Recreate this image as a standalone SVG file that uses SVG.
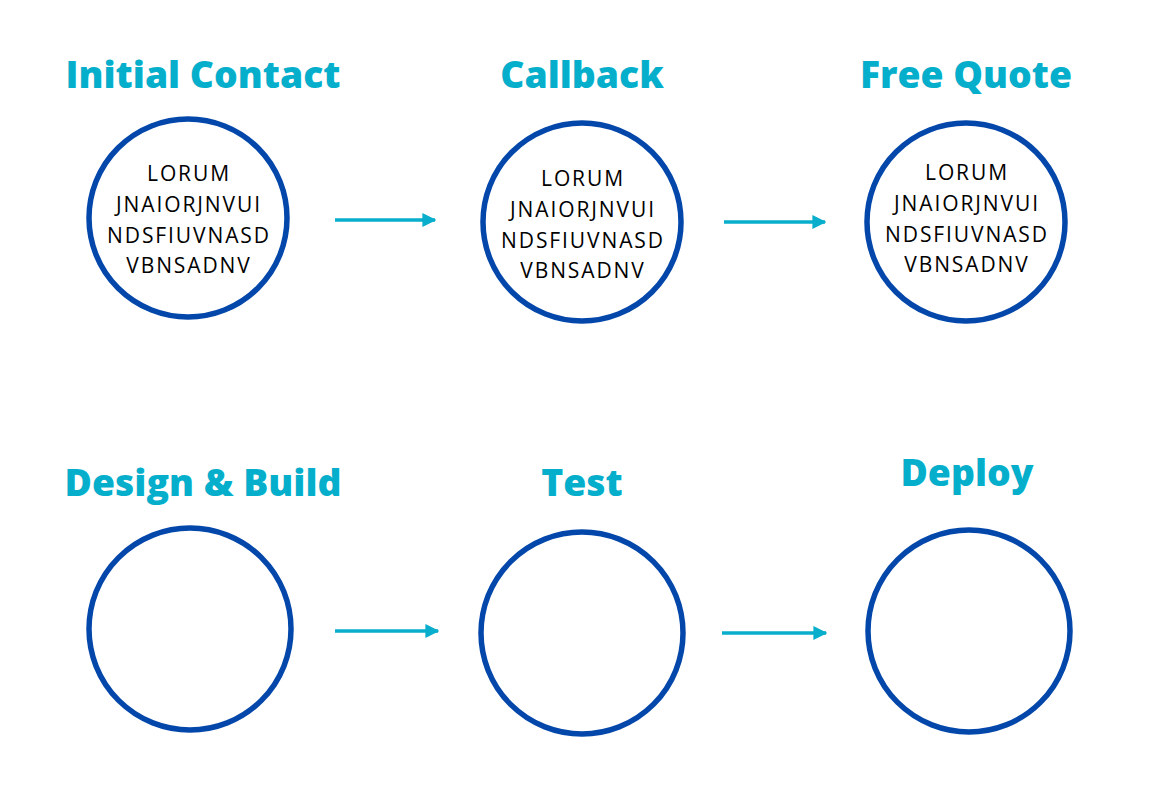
<svg xmlns="http://www.w3.org/2000/svg" width="1154" height="790" viewBox="0 0 1154 790">
<defs>
<style>
.title{font-family:"Open Sans","Liberation Sans",sans-serif;font-weight:800;font-size:37.3px;fill:#05AFCC;text-anchor:middle}
.body{font-family:"Open Sans","Liberation Sans",sans-serif;font-size:21px;letter-spacing:1.9px;fill:#000;text-anchor:middle}
.ring{fill:#fff;stroke:#0447AA;stroke-width:5.5}
.conn{stroke:#08AECB;stroke-width:3.5;fill:none}
</style>
<marker id="ah" viewBox="0 0 10 10" refX="9" refY="5" markerWidth="4" markerHeight="4.4" orient="auto" markerUnits="strokeWidth">
<path d="M0,0 L10,5 L0,10 Z" fill="#08AECB"/>
</marker>
</defs>
<rect width="1154" height="790" fill="#fff"/>
<g id="node-initial-contact">
<text class="title" x="203" y="88">Initial Contact</text>
<circle class="ring" cx="188" cy="218" r="99"/>
<text class="body" x="189" y="181">LORUM</text>
<text class="body" x="189" y="212">JNAIORJNVUI</text>
<text class="body" x="189" y="243">NDSFIUVNASD</text>
<text class="body" x="189" y="273">VBNSADNV</text>
</g>
<g id="node-callback">
<text class="title" x="582" y="88">Callback</text>
<circle class="ring" cx="582" cy="222" r="99"/>
<text class="body" x="583" y="186">LORUM</text>
<text class="body" x="583" y="217">JNAIORJNVUI</text>
<text class="body" x="583" y="248">NDSFIUVNASD</text>
<text class="body" x="583" y="278">VBNSADNV</text>
</g>
<g id="node-free-quote">
<text class="title" x="966" y="88">Free Quote</text>
<circle class="ring" cx="966" cy="222" r="99"/>
<text class="body" x="967" y="180">LORUM</text>
<text class="body" x="967" y="211">JNAIORJNVUI</text>
<text class="body" x="967" y="242">NDSFIUVNASD</text>
<text class="body" x="967" y="272">VBNSADNV</text>
</g>
<g id="node-design-build">
<text class="title" x="203" y="496">Design &amp; Build</text>
<circle class="ring" cx="190" cy="629" r="101"/>
</g>
<g id="node-test">
<text class="title" x="582" y="496">Test</text>
<circle class="ring" cx="582" cy="633" r="101"/>
</g>
<g id="node-deploy">
<text class="title" x="967" y="486">Deploy</text>
<circle class="ring" cx="969" cy="631" r="101"/>
</g>
<g id="connectors">
<line class="conn" x1="335" y1="220" x2="435" y2="220" marker-end="url(#ah)"/>
<line class="conn" x1="724" y1="222" x2="825" y2="222" marker-end="url(#ah)"/>
<line class="conn" x1="335" y1="631" x2="438" y2="631" marker-end="url(#ah)"/>
<line class="conn" x1="722" y1="633" x2="826" y2="633" marker-end="url(#ah)"/>
</g>
</svg>
